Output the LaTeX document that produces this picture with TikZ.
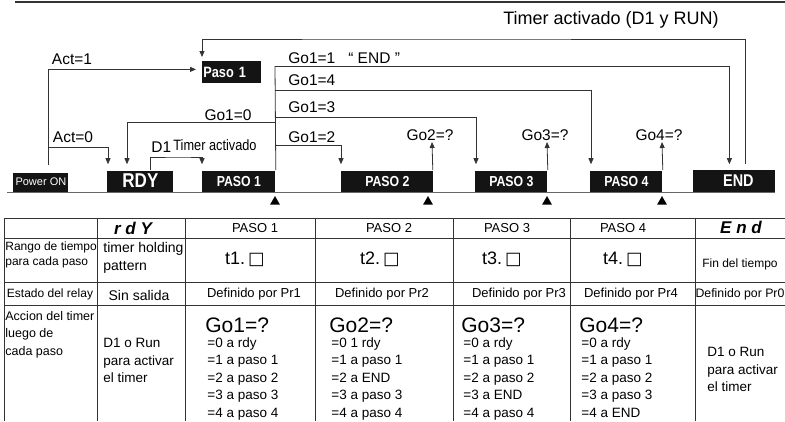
\documentclass[tikz,border=0pt]{standalone}
\usepackage{fontspec}
\setmainfont{Liberation Sans}
\newfontfamily\narrowf{Liberation Sans}[FakeStretch=0.85]
\newfontfamily\boxsym{DejaVu Sans}
\usetikzlibrary{arrows.meta,shapes.geometric}
\newcommand{\fsz}[2]{\fontsize{#1}{#2}\selectfont}
\newcommand{\tsq}{{\boxsym\fsz{17.5}{17.5}□}}
\begin{document}
\begin{tikzpicture}[x=1pt,y=-1pt,line width=0.8pt,draw=black!80]
	\def\baseln{192}
	\def\rowhead{228}
	\def\rowtime{259}
	\def\rowrelay{294}
	\tikzstyle{blk}=[fill=black!92,text=white,font=\narrowf\bfseries\fsz{14.5}{14.5},inner sep=0pt,anchor=south west]
	\tikzstyle{lbl}=[font=\fsz{15.5}{16},inner sep=0pt]
	\tikzstyle{cell}=[font=\fsz{13}{15},inner sep=0pt]
	\tikzstyle{lst}=[font=\fsz{13.5}{17.5},inner sep=0pt,align=left,anchor=north west]
	\tikzstyle{arr}=[-{Triangle[length=6pt,width=5pt]}]
	\tikzstyle{tri}=[regular polygon,regular polygon sides=3,fill=black,inner sep=0pt,minimum size=11.5pt]
	\useasboundingbox (0,0) rectangle (785,421);
	\draw[line width=2.5pt] (15,2) -- (785,2);

	% time line
	\draw[draw=black!60] (7,\baseln) -- (775,\baseln);
	\node[blk,minimum width=55pt,minimum height=19pt,font=\fsz{11}{11}] (pon) at (13,\baseln) {Power ON};
	\node[blk,minimum width=66pt,minimum height=21pt,font=\narrowf\bfseries\fsz{20}{20}] (rdy) at (107,\baseln) {RDY};
	\node[blk,minimum width=73pt,minimum height=21pt] (p1) at (202,\baseln) {PASO 1};
	\node[blk,minimum width=92pt,minimum height=21pt] (p2) at (341,\baseln) {PASO 2};
	\node[blk,minimum width=72pt,minimum height=21pt] (p3) at (475,\baseln) {PASO 3};
	\node[blk,minimum width=72pt,minimum height=21pt] (p4) at (590,\baseln) {PASO 4};
	\node[blk,minimum width=82pt,minimum height=22pt,font=\narrowf\bfseries\fsz{17}{17}] (end) at (693,\baseln) {\hspace*{8pt}END};
	\node[blk,anchor=north west,minimum height=22pt,text width=57pt,inner xsep=1pt,align=left,font=\narrowf\bfseries\fsz{15}{15}] (paso1) at (202,61) {Paso 1};
	\foreach \x/\n in {275/m1,428/m2,547/m3,662/m4}
		\node[tri] (\n) at (\x,201.8) {};

	% labels
	\node[font=\fsz{18}{18},inner sep=0pt] (tact) at (611,20) {Timer activado (D1 y RUN)};
	\node[lbl] (act1) at (72,59) {Act=1};
	\node[lbl] (act0) at (73,137) {Act=0};
	\node[lbl,anchor=west] (go11) at (288,58) {Go1=1\ \ \ “ END ”};
	\node[lbl,anchor=west] (go14) at (288,80) {Go1=4};
	\node[lbl,anchor=west] (go13) at (288,107) {Go1=3};
	\node[lbl,anchor=west] (go12) at (288,137) {Go1=2};
	\node[lbl] (go10) at (228,115) {Go1=0};
	\node[lbl,anchor=west] (d1) at (151,147) {D1};
	\node[font=\narrowf\fsz{15}{15},inner sep=0pt,anchor=west] (d1t) at (173,145) {Timer activado};
	\node[lbl] (go2) at (430,135) {Go2=?};
	\node[lbl] (go3) at (545,135) {Go3=?};
	\node[lbl] (go4) at (659,135) {Go4=?};

	% connectors
	\coordinate (pontop) at (48,165);
	\coordinate (actz) at (48,147);
	\coordinate (g1) at (275,66);
	\coordinate (g4) at (275,90);
	\coordinate (g3) at (275,117);
	\coordinate (g0) at (275,122);
	\coordinate (g2) at (275,145);
	\coordinate (q2) at (432,142);
	\coordinate (q3) at (547,142);
	\coordinate (q4) at (662,142);
	\draw[arr] (pontop) |- ([xshift=-6pt,yshift=3pt]paso1.west);
	\draw[arr] (actz) -| ([xshift=1pt,yshift=6pt]rdy.north west);
	\draw (p1.north east) -- (g1);
	\draw[arr] (g1) -| ([xshift=-5pt,yshift=5pt]end.north);
	\draw[arr] (g4) -| ([xshift=1pt,yshift=6pt]p4.north west);
	\draw[arr] (g3) -| ([xshift=1pt,yshift=6pt]p3.north west);
	\draw[arr] (g0) -| ([xshift=20pt,yshift=6pt]rdy.north west);
	\draw[arr] (g2) -| ([yshift=6pt]p2.north west);
	\draw[arr] ([xshift=10pt]rdy.north) |- (180,157) -| ([yshift=6pt]p1.north west);
	\draw[arr] ([xshift=11pt,yshift=5pt]end.north) |- (400,39) -| ([yshift=4pt]paso1.north west);
	\draw[arr] ([xshift=-1pt]p2.north east) -- (q2);
	\draw[arr] (p3.north east) -- (q3);
	\draw[arr] (p4.north east) -- (q4);

	% table
	\foreach \y in {218,238,282,305}
		\draw (4,\y) -- (785,\y);
	\foreach \x in {4,97,185,315,453,570,695}
		\draw (\x,218) -- (\x,421);
	\node[font=\bfseries\itshape\fsz{17}{17},inner sep=0pt] (hrdy) at (133,228) {r d Y};
	\node[font=\bfseries\itshape\fsz{17}{17},inner sep=0pt] (hend) at (741,227) {E n d};
	\foreach \x/\t [count=\i] in {255/PASO 1,389/PASO 2,507/PASO 3,623/PASO 4}
		\node[cell] (h\i) at (\x,\rowhead) {\t};
	\node[font=\fsz{12}{15.5},inner sep=0pt,align=left,anchor=north west] (rango) at (5,241) {Rango de tiempo\\para cada paso};
	\node[font=\fsz{14}{18},inner sep=0pt,align=left,anchor=north west] (hold) at (103,242) {timer holding\\pattern};
	\foreach \x/\t [count=\i] in {245/1,380/2,502/3,623/4}
		\node[font=\fsz{18}{18},inner sep=0pt] (t\i) at (\x,\rowtime) {t\t.\,\tsq};
	\node[font=\fsz{12}{13},inner sep=0pt] (fin) at (740,264) {Fin del tiempo};
	\node[font=\fsz{12}{13},inner sep=0pt] (estado) at (50,\rowrelay) {Estado del relay};
	\node[font=\fsz{14}{14},inner sep=0pt] (sin) at (139,295) {Sin salida};
	\foreach \x/\t [count=\i] in {254/1,382/2,519/3,631/4}
		\node[cell] (r\i) at (\x,\rowrelay) {Definido por Pr\t};
	\node[font=\fsz{12.3}{13},inner sep=0pt] (r0) at (740,\rowrelay) {Definido por Pr0};
	\node[lst,font=\fsz{12.5}{17.5}] (accion) at (5,311) {Accion del timer\\luego de\\cada paso};
	\node[lst] (run1) at (103,338) {D1 o Run\\para activar\\el timer};
	\node[lst] (run2) at (707,347) {D1 o Run\\para activar\\el timer};
	\foreach \x/\n in {205/1,329/2,461/3,579/4}
		\node[font=\fsz{21}{21},inner sep=0pt,anchor=base west] (gh\n) at (\x,332) {Go\n=?};
	\node[lst] (l1) at (207,337) {=0 a rdy\\=1 a paso 1\\=2 a paso 2\\=3 a paso 3\\=4 a paso 4};
	\node[lst] (l2) at (331,337) {=0 1 rdy\\=1 a paso 1\\=2 a END\\=3 a paso 3\\=4 a paso 4};
	\node[lst] (l3) at (463,337) {=0 a rdy\\=1 a paso 1\\=2 a paso 2\\=3 a END\\=4 a paso 4};
	\node[lst] (l4) at (581,337) {=0 a rdy\\=1 a paso 1\\=2 a paso 2\\=3 a paso 3\\=4 a END};
\end{tikzpicture}
\end{document}
